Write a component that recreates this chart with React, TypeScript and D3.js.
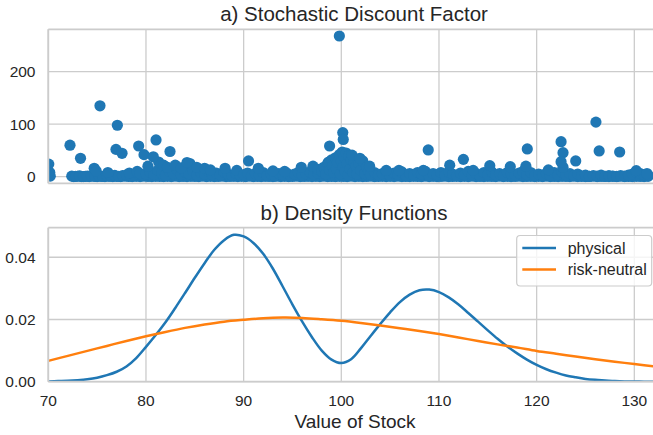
import React from 'react';
import * as d3 from 'd3';

// ---------- data ----------
const xTicks = [70, 80, 90, 100, 110, 120, 130];
const sdfTicks = [0, 100, 200];
const densTicks = [0, 0.02, 0.04];
const densTickLabels = ['0.00', '0.02', '0.04'];

const physStock = [70, 71, 72, 73, 74, 75, 76, 77, 78, 79, 80, 81, 82, 83, 84, 85, 86, 87, 88, 89, 90, 91, 92, 93, 94, 95, 96, 97, 98, 99, 100, 101, 102, 103, 104, 105, 106, 107, 108, 109, 110, 111, 112, 113, 114, 115, 116, 117, 118, 119, 120, 121, 122, 123, 124, 125, 126, 127, 128, 129, 130, 131, 132, 133];
const physical = [0.0001, 0.0002, 0.0003, 0.0005, 0.0008, 0.0013, 0.0021, 0.0032, 0.0049, 0.0076, 0.0112, 0.0150, 0.0191, 0.0237, 0.0285, 0.0334, 0.0381, 0.0424, 0.0455, 0.0472, 0.0467, 0.0446, 0.0411, 0.0363, 0.0306, 0.0248, 0.0193, 0.0143, 0.0100, 0.0071, 0.0060, 0.0072, 0.0107, 0.0147, 0.0186, 0.0223, 0.0256, 0.0280, 0.0294, 0.0296, 0.0288, 0.0271, 0.0248, 0.0221, 0.0193, 0.0165, 0.0138, 0.0113, 0.0091, 0.0071, 0.0054, 0.0040, 0.0029, 0.0020, 0.0014, 0.0009, 0.0006, 0.0004, 0.0002, 0.0001, 0.0001, 0.0000, 0.0000, 0.0000];

const rnStock = [70, 72, 74, 76, 78, 80, 82, 84, 86, 88, 90, 92, 94, 96, 98, 100, 102, 104, 106, 108, 110, 112, 114, 116, 118, 120, 122, 124, 126, 128, 130, 132, 134];
const riskNeutral = [0.0067, 0.0083, 0.0099, 0.0115, 0.0131, 0.0146, 0.0160, 0.0173, 0.0184, 0.0193, 0.0199, 0.0204, 0.0206, 0.0205, 0.0201, 0.0196, 0.0189, 0.0181, 0.0172, 0.0163, 0.0153, 0.0142, 0.0131, 0.0120, 0.0110, 0.0099, 0.0090, 0.0081, 0.0072, 0.0064, 0.0057, 0.0049, 0.0042];

// SDF scatter: isolated large values
const sdfOutliers: [number, number][] = [
  [70.05, 24], [70.1, 3], [70.15, 8], [70.2, 1],
  [72.22, 60], [73.3, 35], [75.29, 135], [77.07, 98], [76.93, 52], [77.55, 44.5],
  [79.25, 58.5], [79.8, 42], [80.75, 38], [81.03, 70], [82.46, 48], [84.2, 27],
  [90.5, 30], [98.8, 58.5], [99.8, 268], [100.15, 84], [100.2, 71], [101.1, 41],
  [101.9, 35], [102.9, 20], [108.9, 51], [112.5, 33], [119.04, 52.8], [122.5, 66.7],
  [122.7, 45.7], [122.5, 28.6], [124.0, 30], [126.07, 104], [126.4, 49], [128.5, 47],
];

// SDF scatter: values sitting close to zero
const sdfBase: [number, number][] = [
  [72.6, 0.2], [73.0, 0.8], [73.4, 0.1], [73.8, 0.5], [74.2, 0.3], [74.6, 0.9], [75.0, 0.2], [75.4, 0.6],
  [75.8, 0.1], [76.2, 0.7], [76.6, 0.3], [77.0, 0.5], [77.4, 0.2], [77.8, 0.8], [78.2, 0.4], [78.6, 0.1],
  [79.0, 0.6], [79.4, 0.3], [79.8, 0.9], [80.2, 0.5], [80.6, 0.2], [81.0, 0.7], [81.4, 0.4], [81.8, 0.1],
  [82.2, 0.6], [82.6, 0.3], [83.0, 0.8], [83.4, 0.2], [83.8, 0.5], [84.2, 0.1], [84.6, 0.7], [85.0, 0.4],
  [85.4, 0.2], [85.8, 0.9], [86.2, 0.3], [86.6, 0.6], [87.0, 0.1], [87.4, 0.5], [87.8, 0.8], [88.2, 0.2],
  [88.6, 0.4], [89.0, 0.7], [89.4, 0.1], [89.8, 0.6], [90.2, 0.3], [90.6, 0.8], [91.0, 0.2], [91.4, 0.5],
  [91.8, 0.1], [92.2, 0.7], [92.6, 0.4], [93.0, 0.2], [93.4, 0.9], [93.8, 0.3], [94.2, 0.6], [94.6, 0.1],
  [95.0, 0.5], [95.4, 0.8], [95.8, 0.2], [96.2, 0.4], [96.6, 0.7], [97.0, 0.1], [97.4, 0.6], [97.8, 0.3],
  [98.2, 0.8], [98.6, 0.2], [99.0, 0.5], [99.4, 0.1], [99.8, 0.7], [100.2, 0.4], [100.6, 0.2], [101.0, 0.9],
  [101.4, 0.3], [101.8, 0.6], [102.2, 0.1], [102.6, 0.5], [103.0, 0.8], [103.4, 0.2], [103.8, 0.4], [104.2, 0.7],
  [104.6, 0.1], [105.0, 0.6], [105.4, 0.3], [105.8, 0.8], [106.2, 0.2], [106.6, 0.5], [107.0, 0.1], [107.4, 0.7],
  [107.8, 0.4], [108.2, 0.2], [108.6, 0.9], [109.0, 0.3], [109.4, 0.6], [109.8, 0.1], [110.2, 0.5], [110.6, 0.8],
  [111.0, 0.2], [111.4, 0.4], [111.8, 0.7], [112.2, 0.1], [112.6, 0.6], [113.0, 0.3], [113.4, 0.8], [113.8, 0.2],
  [114.2, 0.5], [114.6, 0.1], [115.0, 0.7], [115.4, 0.4], [115.8, 0.2], [116.2, 0.9], [116.6, 0.3], [117.0, 0.6],
  [117.4, 0.1], [117.8, 0.5], [118.2, 0.8], [118.6, 0.2], [119.0, 0.4], [119.4, 0.7], [119.8, 0.1], [120.2, 0.6],
  [120.6, 0.3], [121.0, 0.8], [121.4, 0.2], [121.8, 0.5], [122.2, 0.1], [122.6, 0.7], [123.0, 0.4], [123.4, 0.2],
  [123.8, 0.9], [124.2, 0.3], [124.6, 0.6], [125.0, 0.1], [125.4, 0.5], [125.8, 0.8], [126.2, 0.2], [126.6, 0.4],
  [127.0, 0.7], [127.4, 0.1], [127.8, 0.6], [128.2, 0.3], [128.6, 0.8], [129.0, 0.2], [129.4, 0.5], [129.8, 0.1],
  [130.2, 0.7], [130.6, 0.4], [131.0, 0.2], [131.4, 0.6],
];

// SDF scatter: the dense band of small values
const sdfBand: [number, number][] = [
  [72.4, 1], [72.8, 0.5], [73.2, 1.5], [73.6, 0.3], [74.0, 1], [74.4, 2], [74.8, 0.5], [75.2, 1.5],
  [75.6, 0.4], [76.0, 2], [76.4, 1], [76.8, 2.5], [77.2, 0.8], [77.6, 2], [78.0, 3.5], [78.4, 1.5],
  [78.8, 3], [79.2, 5], [79.6, 2.5],
  [74.7, 16], [74.9, 11], [76.1, 8], [78.3, 7], [79.1, 10], [79.4, 6],
  [80.0, 5], [80.4, 9], [80.8, 4], [81.2, 12], [81.6, 7], [82.0, 3], [82.4, 10], [82.8, 6],
  [83.2, 13], [83.6, 4], [84.0, 9], [84.4, 6], [84.8, 11], [85.2, 3], [85.6, 8], [86.0, 5],
  [86.4, 10], [86.8, 4], [87.2, 7], [87.6, 3], [88.0, 9], [88.4, 5], [88.8, 2], [89.2, 7], [89.6, 4],
  [80.2, 20], [81.3, 28], [81.8, 22], [82.2, 18], [83.0, 22], [83.6, 17], [84.5, 25], [85.2, 18],
  [86.0, 16], [86.6, 13], [88.1, 16], [89.3, 12],
  [90.0, 4], [90.4, 7], [90.8, 2], [91.2, 6], [91.6, 3], [92.0, 8], [92.4, 2], [92.8, 5],
  [93.2, 1], [93.6, 6], [94.0, 3], [94.4, 7], [94.8, 2], [95.2, 5], [95.6, 8], [96.0, 3],
  [96.4, 6], [96.8, 9], [97.2, 4], [97.6, 7],
  [91.5, 16], [93.0, 11], [94.2, 10], [95.9, 18], [97.1, 20], [97.6, 14],
  [98.0, 10], [98.2, 18], [98.4, 5], [98.6, 25], [98.7, 28], [98.8, 12], [99.0, 32], [99.1, 20],
  [99.2, 8], [99.4, 36], [99.5, 15], [99.6, 27], [99.8, 42], [99.9, 5], [100.0, 30], [100.1, 47],
  [100.2, 18], [100.3, 38], [100.4, 10], [100.5, 45], [100.6, 25], [100.7, 3], [100.8, 40],
  [100.9, 15], [101.0, 32], [101.2, 8], [101.3, 28], [101.5, 20], [101.6, 5], [101.8, 25],
  [102.0, 12], [102.2, 30], [102.4, 6], [102.6, 18], [102.8, 10], [103.0, 4],
  [103.4, 8], [103.8, 3], [104.2, 6], [104.6, 10], [105.0, 2], [105.4, 7], [105.8, 4], [106.2, 9],
  [106.6, 2], [107.0, 6], [107.4, 3], [107.8, 8], [108.2, 5], [108.6, 10], [109.0, 2], [109.4, 6],
  [109.8, 4], [110.2, 8], [110.6, 3], [111.0, 9], [111.4, 5], [111.8, 2], [112.2, 7], [112.6, 4],
  [113.0, 10], [113.4, 3], [113.8, 6], [114.2, 2], [114.6, 8], [115.0, 4], [115.4, 9], [115.8, 3],
  [116.2, 6], [116.6, 2], [117.0, 8], [117.4, 5], [117.8, 3], [118.2, 7], [118.6, 10], [119.0, 4],
  [119.4, 8], [119.8, 2], [120.2, 5], [120.6, 3], [121.0, 6], [121.4, 2], [121.8, 8], [122.2, 4],
  [122.6, 9], [123.0, 3], [123.4, 6], [123.8, 2], [124.2, 5], [124.6, 1], [125.0, 3], [125.4, 0.5],
  [125.8, 2], [126.2, 1], [126.6, 3], [127.0, 0.5], [127.4, 2], [127.8, 1], [128.2, 0.5], [128.6, 2],
  [129.0, 1], [129.4, 3], [129.8, 5], [130.2, 8], [130.6, 6], [131.0, 4], [131.4, 3],
  [104.6, 12], [105.9, 12], [108.4, 12], [111.1, 22], [113.5, 12], [115.2, 21], [117.3, 19],
  [118.9, 20], [121.2, 13], [122.7, 18], [130.2, 11.5], [131.3, 6],
];

// ---------- layout ----------
const W = 653;
const H = 435;
const FONT = "'Liberation Sans', Arial, 'DejaVu Sans', sans-serif";
const TEXT = '#262626';
const GRID = '#cccccc';
const BLUE = '#1f77b4';
const ORANGE = '#ff7f0e';

const X0 = 48.3;
const PX_PER_UNIT = 9.767;
const XMAX = 132.6;

export default function App() {
  const x = d3.scaleLinear().domain([70, XMAX]).range([X0, X0 + (XMAX - 70) * PX_PER_UNIT]);
  const yTop = d3.scaleLinear().domain([-12.6, 280.8]).range([183.3, 29.3]);
  const yBot = d3.scaleLinear().domain([0, 0.0495]).range([381.7, 227.7]);

  const topR = yTop.range();
  const botR = yBot.range();
  const right = W;

  const physLine = d3
    .line<number>()
    .x((_, i) => x(physStock[i]))
    .y((d) => yBot(d))
    .curve(d3.curveCatmullRom.alpha(0.5))(physical) as string;
  const rnLine = d3
    .line<number>()
    .x((_, i) => x(rnStock[i]))
    .y((d) => yBot(d))
    .curve(d3.curveCatmullRom.alpha(0.5))(riskNeutral) as string;

  const allPts = [...sdfBase, ...sdfBand, ...sdfOutliers];

  return (
    <div>
      <style>{`body{margin:0}`}</style>
      <svg width={W} height={H} style={{ display: 'block', fontFamily: FONT }}>
        <defs>
          <clipPath id="clipTop">
            <rect x={X0} y={topR[1]} width={right - X0} height={topR[0] - topR[1]} />
          </clipPath>
          <clipPath id="clipBot">
            <rect x={X0} y={botR[1]} width={right - X0} height={botR[0] - botR[1]} />
          </clipPath>
        </defs>
        <rect width={W} height={H} fill="#ffffff" />

        {/* ---- top panel ---- */}
        <g>
          {xTicks.map((t) => (
            <line key={'gtx' + t} x1={x(t)} x2={x(t)} y1={topR[1]} y2={topR[0]} stroke={GRID} strokeWidth={1.3} />
          ))}
          {sdfTicks.map((t) => (
            <line key={'gty' + t} x1={X0} x2={right} y1={yTop(t)} y2={yTop(t)} stroke={GRID} strokeWidth={1.3} />
          ))}
          <g clipPath="url(#clipTop)">
            {allPts.map((p, i) => (
              <circle key={'p' + i} cx={x(p[0])} cy={yTop(p[1])} r={5.6} fill={BLUE} />
            ))}
          </g>
          <line x1={X0} x2={X0} y1={topR[1]} y2={topR[0]} stroke={GRID} strokeWidth={1.8} />
          <line x1={X0} x2={right} y1={topR[1]} y2={topR[1]} stroke={GRID} strokeWidth={1.8} />
          <line x1={X0} x2={right} y1={topR[0]} y2={topR[0]} stroke={GRID} strokeWidth={1.8} />
          {sdfTicks.map((t) => (
            <text key={'lty' + t} x={35.5} y={yTop(t)} dy="0.35em" textAnchor="end" fontSize={15.5} fill={TEXT}>
              {t}
            </text>
          ))}
          <text x={354} y={21} textAnchor="middle" fontSize={20.5} fill={TEXT}>
            a) Stochastic Discount Factor
          </text>
        </g>

        {/* ---- bottom panel ---- */}
        <g>
          {xTicks.map((t) => (
            <line key={'gbx' + t} x1={x(t)} x2={x(t)} y1={botR[1]} y2={botR[0]} stroke={GRID} strokeWidth={1.3} />
          ))}
          {densTicks.map((t) => (
            <line key={'gby' + t} x1={X0} x2={right} y1={yBot(t)} y2={yBot(t)} stroke={GRID} strokeWidth={1.3} />
          ))}
          <g clipPath="url(#clipBot)">
            <path d={physLine} fill="none" stroke={BLUE} strokeWidth={2.5} />
            <path d={rnLine} fill="none" stroke={ORANGE} strokeWidth={2.5} />
          </g>
          <line x1={X0} x2={X0} y1={botR[1]} y2={botR[0]} stroke={GRID} strokeWidth={1.8} />
          <line x1={X0} x2={right} y1={botR[1]} y2={botR[1]} stroke={GRID} strokeWidth={1.8} />
          <line x1={X0} x2={right} y1={botR[0]} y2={botR[0]} stroke={GRID} strokeWidth={1.8} />
          {densTicks.map((t, i) => (
            <text key={'lby' + t} x={35.5} y={yBot(t)} dy="0.35em" textAnchor="end" fontSize={15.5} fill={TEXT}>
              {densTickLabels[i]}
            </text>
          ))}
          {xTicks.map((t) => (
            <text key={'lbx' + t} x={x(t)} y={406} textAnchor="middle" fontSize={15.5} fill={TEXT}>
              {t}
            </text>
          ))}
          <text x={354} y={219.5} textAnchor="middle" fontSize={20.5} fill={TEXT}>
            b) Density Functions
          </text>
          <text x={355} y={428} textAnchor="middle" fontSize={19} fill={TEXT}>
            Value of Stock
          </text>

          {/* legend */}
          <g>
            <rect x={516.7} y={235.5} width={135} height={50.5} rx={3.5} fill="#ffffff" fillOpacity={0.8} stroke={GRID} strokeWidth={1.2} />
            <line x1={522.3} x2={556} y1={248} y2={248} stroke={BLUE} strokeWidth={2.5} />
            <line x1={522.3} x2={556} y1={269.5} y2={269.5} stroke={ORANGE} strokeWidth={2.5} />
            <text x={567.7} y={248} dy="0.35em" fontSize={16} fill={TEXT}>physical</text>
            <text x={567.7} y={269.5} dy="0.35em" fontSize={16} fill={TEXT}>risk-neutral</text>
          </g>
        </g>
      </svg>
    </div>
  );
}
